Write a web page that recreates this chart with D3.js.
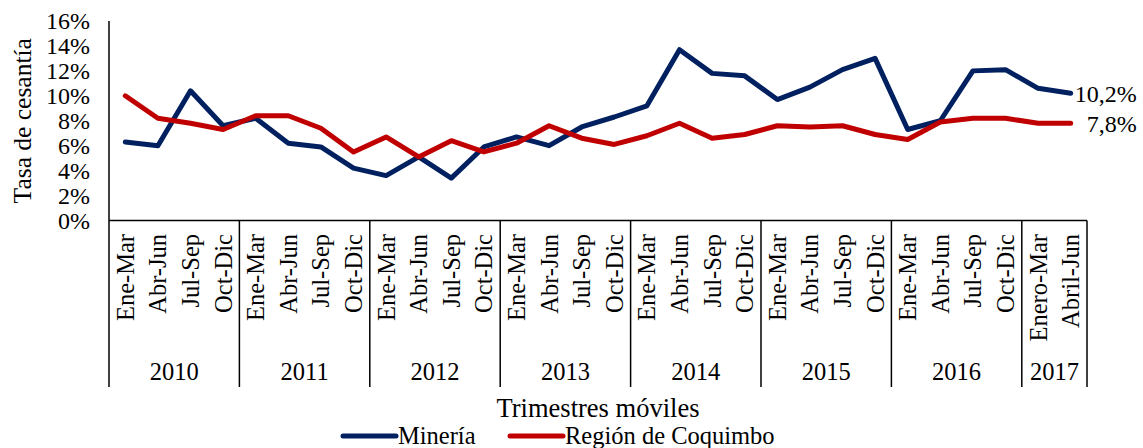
<!DOCTYPE html>
<html>
<head>
<meta charset="utf-8">
<script src="https://cdn.jsdelivr.net/npm/d3@7"></script>
<style>
  body { margin: 0; background: #fff; }
  text { font-family: "Liberation Serif", "Times New Roman", serif; fill: #000; }
</style>
</head>
<body>
<script>
const w = 1143,
  h = 448;

// data (percent)
const quarters = [
  'Ene-Mar', 'Abr-Jun', 'Jul-Sep', 'Oct-Dic',
  'Ene-Mar', 'Abr-Jun', 'Jul-Sep', 'Oct-Dic',
  'Ene-Mar', 'Abr-Jun', 'Jul-Sep', 'Oct-Dic',
  'Ene-Mar', 'Abr-Jun', 'Jul-Sep', 'Oct-Dic',
  'Ene-Mar', 'Abr-Jun', 'Jul-Sep', 'Oct-Dic',
  'Ene-Mar', 'Abr-Jun', 'Jul-Sep', 'Oct-Dic',
  'Ene-Mar', 'Abr-Jun', 'Jul-Sep', 'Oct-Dic',
  'Enero-Mar', 'Abril-Jun'
];
const years = ['2010', '2011', '2012', '2013', '2014', '2015', '2016', '2017'];
const quartersPerYear = [4, 4, 4, 4, 4, 4, 4, 2];
const mineria = [6.3, 6.0, 10.4, 7.6, 8.2, 6.2, 5.9, 4.2, 3.6, 5.1, 3.4, 5.9, 6.7, 6.0, 7.5, 8.3,
  9.2, 13.7, 11.8, 11.6, 9.7, 10.7, 12.1, 13.0, 7.3, 8.0, 12.0, 12.1, 10.6, 10.2];
const region = [10.0, 8.2, 7.8, 7.3, 8.4, 8.4, 7.4, 5.5, 6.7, 5.1, 6.4, 5.5, 6.2, 7.6, 6.6, 6.1,
  6.8, 7.8, 6.6, 6.9, 7.6, 7.5, 7.6, 6.9, 6.5, 7.9, 8.2, 8.2, 7.8, 7.8];
const yTicks = [0, 2, 4, 6, 8, 10, 12, 14, 16];
const endLabels = ['10,2%', '7,8%'];

const series = [
  { name: 'Minería', values: mineria, color: '#002060' },
  { name: 'Región de Coquimbo', values: region, color: '#C00000' }
];

const plotLeft = 109,
  plotRight = 1087,
  plotTop = 21,
  base = 220.5,
  plotBottom = 387;

const svg = d3.select('body').append('svg').attr('width', w).attr('height', h);

const x = d3.scaleBand().domain(d3.range(quarters.length)).range([plotLeft, plotRight]);
const cx = i => x(i) + x.bandwidth() / 2;
const y = d3.scaleLinear().domain([0, 16]).range([base, plotTop]);

// y axis labels
const yAxis = d3.axisLeft(y).tickValues(yTicks).tickSize(0).tickPadding(19).tickFormat(d => d + '%');
const gy = svg.append('g').attr('transform', `translate(${plotLeft},0)`).call(yAxis);
gy.select('.domain').remove();
gy.selectAll('text')
  .style('font-family', '"Liberation Serif", serif')
  .style('font-size', '24px')
  .attr('fill', '#000');

// frame lines
svg.append('line').attr('x1', plotLeft).attr('x2', plotLeft).attr('y1', plotTop).attr('y2', plotBottom)
  .attr('stroke', '#000').attr('stroke-width', 1.5);
svg.append('line').attr('x1', plotLeft).attr('x2', plotRight).attr('y1', base).attr('y2', base)
  .attr('stroke', '#000').attr('stroke-width', 1.5);

// year dividers
let starts = [];
let acc = 0;
quartersPerYear.forEach(n => { starts.push(acc); acc += n; });
const dividers = starts.slice(1).map(s => x(s)).concat([plotRight]);
svg.selectAll('.div').data(dividers).enter().append('line')
  .attr('x1', d => d).attr('x2', d => d).attr('y1', base).attr('y2', plotBottom)
  .attr('stroke', '#000').attr('stroke-width', 1.5);

// quarter labels
svg.selectAll('.q').data(quarters).enter().append('text')
  .attr('transform', (d, i) => `translate(${cx(i)},234) rotate(-90)`)
  .attr('dy', '0.35em')
  .attr('text-anchor', 'end')
  .style('font-size', '24.5px')
  .text(d => d);

// year labels
svg.selectAll('.yr').data(years).enter().append('text')
  .attr('x', (d, i) => (x(starts[i]) + x(starts[i] + quartersPerYear[i] - 1) + x.bandwidth()) / 2)
  .attr('y', 380)
  .attr('text-anchor', 'middle')
  .style('font-size', '24.5px')
  .text(d => d);

// lines
const line = d3.line().x((d, i) => cx(i)).y(d => y(d));
svg.selectAll('.series').data(series).enter().append('path')
  .attr('d', d => line(d.values))
  .attr('fill', 'none')
  .attr('stroke', d => d.color)
  .attr('stroke-width', 5)
  .attr('stroke-linejoin', 'round')
  .attr('stroke-linecap', 'round');

// end labels
const last = quarters.length - 1;
svg.selectAll('.end').data(series).enter().append('text')
  .attr('x', cx(last) + 66)
  .attr('y', d => y(d.values[last]))
  .attr('dy', '0.35em')
  .attr('text-anchor', 'end')
  .style('font-size', '24px')
  .text((d, i) => endLabels[i]);

// axis titles
svg.append('text')
  .attr('transform', `translate(22,${(plotTop + base) / 2}) rotate(-90)`)
  .attr('dy', '0.35em')
  .attr('text-anchor', 'middle')
  .style('font-size', '25.5px')
  .text('Tasa de cesantía');

svg.append('text')
  .attr('x', (plotLeft + plotRight) / 2)
  .attr('y', 417)
  .attr('text-anchor', 'middle')
  .style('font-size', '26.5px')
  .text('Trimestres móviles');

// legend
const legendX = [343, 510];
const lg = svg.selectAll('.lg').data(series).enter().append('g')
  .attr('transform', (d, i) => `translate(${legendX[i]},436)`);
lg.append('line').attr('x1', 0).attr('x2', 53)
  .attr('stroke', d => d.color).attr('stroke-width', 5).attr('stroke-linecap', 'round');
lg.append('text').attr('x', 55).attr('y', 8).style('font-size', '24.5px').text(d => d.name);
</script>
</body>
</html>
